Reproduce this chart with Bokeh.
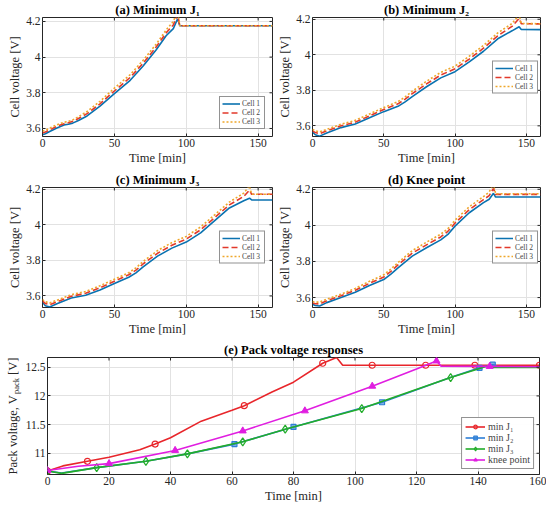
import numpy as np
from bokeh.plotting import figure
from bokeh.layouts import column, row
from bokeh.models import Range1d, FixedTicker, CustomJSTickFormatter, Label
from bokeh.embed import file_html
from bokeh.resources import INLINE

FONT = "'Liberation Serif', 'Times New Roman', Times, serif"
TXT = "#262626"

# ---------------- data ----------------
ta = [0, 2, 5, 10, 15, 18, 21, 25, 31, 40, 50, 61, 70, 79, 86, 91, 94, 95.5, 100, 160]
a1 = [3.565, 3.57, 3.583, 3.603, 3.62, 3.624, 3.63, 3.645, 3.67, 3.725, 3.795, 3.87, 3.95, 4.04, 4.12, 4.16, 4.215, 4.176, 4.176, 4.176]
a2 = [3.575, 3.58, 3.592, 3.612, 3.627, 3.632, 3.64, 3.656, 3.683, 3.738, 3.81, 3.886, 3.966, 4.056, 4.136, 4.18, 4.24, 4.176, 4.176, 4.176]
a3 = [3.585, 3.59, 3.602, 3.621, 3.635, 3.64, 3.648, 3.666, 3.695, 3.752, 3.826, 3.902, 3.982, 4.072, 4.152, 4.2, 4.26, 4.176, 4.176, 4.176]

tb = [0, 2, 5, 10, 20, 30, 40, 50, 60, 65, 70, 80, 90, 100, 110, 120, 130, 140, 145, 146.5, 160]
b1 = [3.565, 3.55, 3.542, 3.56, 3.59, 3.61, 3.645, 3.68, 3.71, 3.735, 3.765, 3.82, 3.87, 3.905, 3.96, 4.02, 4.09, 4.135, 4.158, 4.143, 4.142]
b2 = [3.572, 3.562, 3.556, 3.571, 3.6, 3.621, 3.656, 3.692, 3.724, 3.75, 3.781, 3.836, 3.886, 3.921, 3.976, 4.037, 4.107, 4.16, 4.205, 4.175, 4.174]
b3 = [3.58, 3.572, 3.566, 3.58, 3.609, 3.631, 3.667, 3.703, 3.736, 3.763, 3.795, 3.851, 3.901, 3.936, 3.992, 4.053, 4.123, 4.176, 4.225, 4.176, 4.175]

tc = [0, 2, 5, 10, 20, 30, 40, 50, 60, 65, 70, 80, 90, 100, 110, 120, 130, 140, 144, 145.5, 160]
c1 = [3.565, 3.545, 3.538, 3.556, 3.588, 3.604, 3.634, 3.67, 3.705, 3.73, 3.764, 3.824, 3.869, 3.903, 3.955, 4.025, 4.095, 4.135, 4.15, 4.14, 4.14]
c2 = [3.572, 3.557, 3.551, 3.567, 3.598, 3.615, 3.646, 3.683, 3.719, 3.745, 3.78, 3.84, 3.885, 3.92, 3.972, 4.042, 4.112, 4.16, 4.195, 4.172, 4.172]
c3 = [3.58, 3.567, 3.561, 3.576, 3.607, 3.625, 3.657, 3.694, 3.731, 3.758, 3.794, 3.855, 3.9, 3.935, 3.988, 4.058, 4.128, 4.178, 4.22, 4.172, 4.172]

td = [0, 2, 5, 10, 20, 30, 40, 50, 55, 60, 70, 80, 90, 95, 100, 110, 120, 124, 127, 128.5, 160]
d1 = [3.563, 3.556, 3.553, 3.572, 3.6, 3.63, 3.667, 3.70, 3.73, 3.765, 3.83, 3.876, 3.92, 3.95, 3.996, 4.07, 4.126, 4.145, 4.178, 4.157, 4.157]
d2 = [3.57, 3.566, 3.565, 3.582, 3.61, 3.641, 3.679, 3.714, 3.745, 3.781, 3.846, 3.892, 3.936, 3.967, 4.013, 4.087, 4.143, 4.165, 4.205, 4.172, 4.172]
d3 = [3.578, 3.575, 3.575, 3.591, 3.619, 3.651, 3.69, 3.726, 3.758, 3.794, 3.86, 3.907, 3.951, 3.982, 4.029, 4.103, 4.16, 4.185, 4.23, 4.175, 4.175]

# pack voltage
tj1 = [0, 5, 13, 20, 30, 35, 40, 50, 60, 64, 73, 80, 89.5, 94, 96, 105.6, 123, 139, 160]
vj1 = [10.69, 10.78, 10.86, 10.93, 11.06, 11.16, 11.27, 11.56, 11.75, 11.83, 12.07, 12.24, 12.57, 12.67, 12.535, 12.535, 12.535, 12.535, 12.535]
mj1_t = [0, 13, 35, 64, 89.5, 105.6, 123, 139, 160]
mj1_v = [10.69, 10.86, 11.16, 11.83, 12.57, 12.535, 12.535, 12.535, 12.535]

tj2 = [0, 4.6, 16, 32, 45.5, 60.8, 80, 108.8, 131, 140.5, 144.8, 146.5, 160]
vj2 = [10.69, 10.655, 10.75, 10.86, 10.99, 11.16, 11.46, 11.89, 12.32, 12.49, 12.545, 12.505, 12.505]
mj2_t = [60.8, 80, 108.8, 140.5, 144.8]
mj2_v = [11.16, 11.46, 11.89, 12.49, 12.545]

tj3 = [0, 4.6, 16, 32, 45.5, 63.5, 77.3, 102.2, 131.1, 140, 143, 144.5, 160]
vj3 = [10.69, 10.65, 10.75, 10.86, 10.99, 11.2, 11.42, 11.78, 12.32, 12.47, 12.52, 12.495, 12.495]
mj3_t = [0, 16, 32, 45.5, 63.5, 77.3, 102.2, 131.1]
mj3_v = [10.69, 10.75, 10.86, 10.99, 11.2, 11.42, 11.78, 12.32]

tk = [0, 10, 20, 41.5, 63.5, 83.7, 105.6, 120, 126.5, 128, 143.8, 160]
vk = [10.70, 10.775, 10.82, 11.05, 11.39, 11.74, 12.17, 12.47, 12.61, 12.52, 12.515, 12.51]
mk_t = [0, 20, 41.5, 63.5, 83.7, 105.6, 126.5, 143.8]
mk_v = [10.70, 10.82, 11.05, 11.39, 11.74, 12.17, 12.61, 12.515]

cell_ticks_x = [0, 50, 100, 150]
cell_ticks_y = [3.6, 3.8, 4.0, 4.2]
pack_ticks_x = [0, 20, 40, 60, 80, 100, 120, 140, 160]
pack_ticks_y = [11, 11.5, 12, 12.5]

C1, C2, C3 = "#0a72b0", "#e2392b", "#efa72a"
RJ1, BJ2, GJ3, MK = "#e8262b", "#2e7fd6", "#22ad2a", "#e01ee0"

fmt = CustomJSTickFormatter(code="return String(parseFloat(tick.toFixed(2)));")


def style(p, xt, yt):
    p.outline_line_color = TXT
    p.outline_line_width = 1
    p.xaxis.ticker = FixedTicker(ticks=xt)
    p.yaxis.ticker = FixedTicker(ticks=yt)
    p.yaxis.formatter = fmt
    p.xgrid.ticker = FixedTicker(ticks=xt)
    p.ygrid.ticker = FixedTicker(ticks=yt)
    p.grid.grid_line_color = "#e2e2e2"
    for ax in p.axis:
        ax.axis_line_color = None
        ax.major_tick_in = 3
        ax.major_tick_out = 0
        ax.major_tick_line_color = TXT
        ax.minor_tick_line_color = None
        ax.major_label_text_font = FONT
        ax.major_label_text_font_size = "11.5px"
        ax.major_label_text_color = TXT
        ax.major_label_standoff = 2
        ax.axis_label_text_font = FONT
        ax.axis_label_text_font_style = "normal"
        ax.axis_label_text_font_size = "12.5px"
        ax.axis_label_text_color = TXT
        ax.axis_label_standoff = 1
    # box-style ticks on the right and top edges (half of each dash is clipped by the frame)
    xr, yr = p.x_range, p.y_range
    p.scatter([xr.end] * len(yt), yt, marker="dash", size=6, line_color=TXT, line_width=1)
    p.scatter(xt, [yr.end] * len(xt), marker="dash", angle=np.pi / 2, size=6, line_color=TXT, line_width=1)
    p.title.text_font = FONT
    p.title.text_font_size = "12.5px"
    p.title.text_font_style = "bold"
    p.title.text_color = "black"
    p.title.align = "center"
    p.title.standoff = 1


def cell_panel(title, t, v1, v2, v3, yr, loc, margin, w, bl, br, bb):
    p = figure(width=w, height=170, x_range=Range1d(0, 160), y_range=Range1d(*yr),
               output_backend="svg", toolbar_location=None, title=title,
               min_border_left=bl, min_border_right=br, min_border_top=17, min_border_bottom=bb)
    p.line(t, v1, color=C1, line_width=1.6, legend_label="Cell 1")
    p.line(t, v2, color=C2, line_width=1.6, line_dash="6 3", legend_label="Cell 2")
    p.line(t, v3, color=C3, line_width=1.6, line_dash="2 2", legend_label="Cell 3")
    p.xaxis.axis_label = "Time [min]"
    p.yaxis.axis_label = "Cell voltage [V]"
    style(p, cell_ticks_x, cell_ticks_y)
    lg = p.legend[0]
    lg.location = loc
    lg.margin = margin
    lg.label_text_font = FONT
    lg.label_text_font_size = "7.5px"
    lg.label_height = 7
    lg.glyph_height = 7
    lg.glyph_width = 18
    lg.spacing = 0
    lg.padding = 2
    lg.label_standoff = 2
    lg.border_line_color = TXT
    lg.border_line_width = 0.8
    return p


pa = cell_panel("(a) Minimum J\u2081", ta, a1, a2, a3, (3.555, 4.222), "bottom_right", 7, 275, 42, 3, 34)
pb = cell_panel("(b) Minimum J\u2082", tb, b1, b2, b3, (3.54, 4.21), "right", 2, 271, 33, 6, 34)
pc = cell_panel("(c) Minimum J\u2083", tc, c1, c2, c3, (3.535, 4.21), "right", 7, 275, 42, 3, 33)
pd = cell_panel("(d) Knee point", td, d1, d2, d3, (3.545, 4.21), "right", 2, 271, 33, 6, 33)

# ---------------- pack voltage panel ----------------
pe = figure(width=524, height=165, x_range=Range1d(0, 160), y_range=Range1d(10.63, 12.67),
            output_backend="svg", toolbar_location=None, title="(e) Pack voltage responses",
            min_border_left=20, min_border_right=7, min_border_top=17, min_border_bottom=29)
pe.line(tj1, vj1, color=RJ1, line_width=1.6, legend_label="min J\u2081")
pe.scatter(mj1_t, mj1_v, marker="circle", size=6, line_color=RJ1, fill_alpha=0, line_width=1.2, legend_label="min J\u2081")
pe.line(tj2, vj2, color=BJ2, line_width=1.6, legend_label="min J\u2082")
pe.scatter(mj2_t, mj2_v, marker="square", size=5, line_color=BJ2, fill_color=BJ2, fill_alpha=0.6, line_width=1.2, legend_label="min J\u2082")
pe.line(tj3, vj3, color=GJ3, line_width=1.6, legend_label="min J\u2083")
pe.scatter(mj3_t, mj3_v, marker="diamond", size=8, line_color=GJ3, fill_alpha=0, line_width=1.2, legend_label="min J\u2083")
pe.line(tk, vk, color=MK, line_width=1.6, legend_label="knee point")
pe.scatter(mk_t, mk_v, marker="triangle", size=7, line_color=MK, fill_color=MK, line_width=1, legend_label="knee point")
pe.xaxis.axis_label = "Time [min]"
style(pe, pack_ticks_x, pack_ticks_y)
lg = pe.legend[0]
lg.location = "bottom_right"
lg.margin = 5
lg.label_text_font = FONT
lg.label_text_font_size = "10px"
lg.label_height = 9
lg.glyph_height = 9
lg.glyph_width = 20
lg.spacing = 0
lg.padding = 3
lg.label_standoff = 3
lg.border_line_color = TXT
lg.border_line_width = 0.8

# y-axis title "Pack voltage, V_pack [V]" as rotated labels (pixel offsets from the
# strip's frame bottom, which the row aligns with the pack panel's frame)
strip = figure(width=22, height=165, x_range=Range1d(0, 1), y_range=Range1d(0, 1),
               output_backend="svg", toolbar_location=None, min_border=0, title=None)
strip.axis.visible = False
strip.grid.visible = False
strip.outline_line_color = None
for txt, x, y, fs in (("Pack voltage, V", 12.5, 0, "12.5px"),
                      ("pack", 15, 80.5, "8.5px"),
                      ("[V]", 12.5, 99.5, "12.5px")):
    strip.add_layout(Label(x=x, y=y, x_units="screen", y_units="screen", text=txt, angle=np.pi / 2,
                           text_font=FONT, text_font_size=fs, text_color=TXT,
                           text_align="left", text_baseline="alphabetic"))

layout = column(row(pa, pb), row(pc, pd), row(strip, pe))
open("out.html", "w").write(file_html(layout, INLINE))
